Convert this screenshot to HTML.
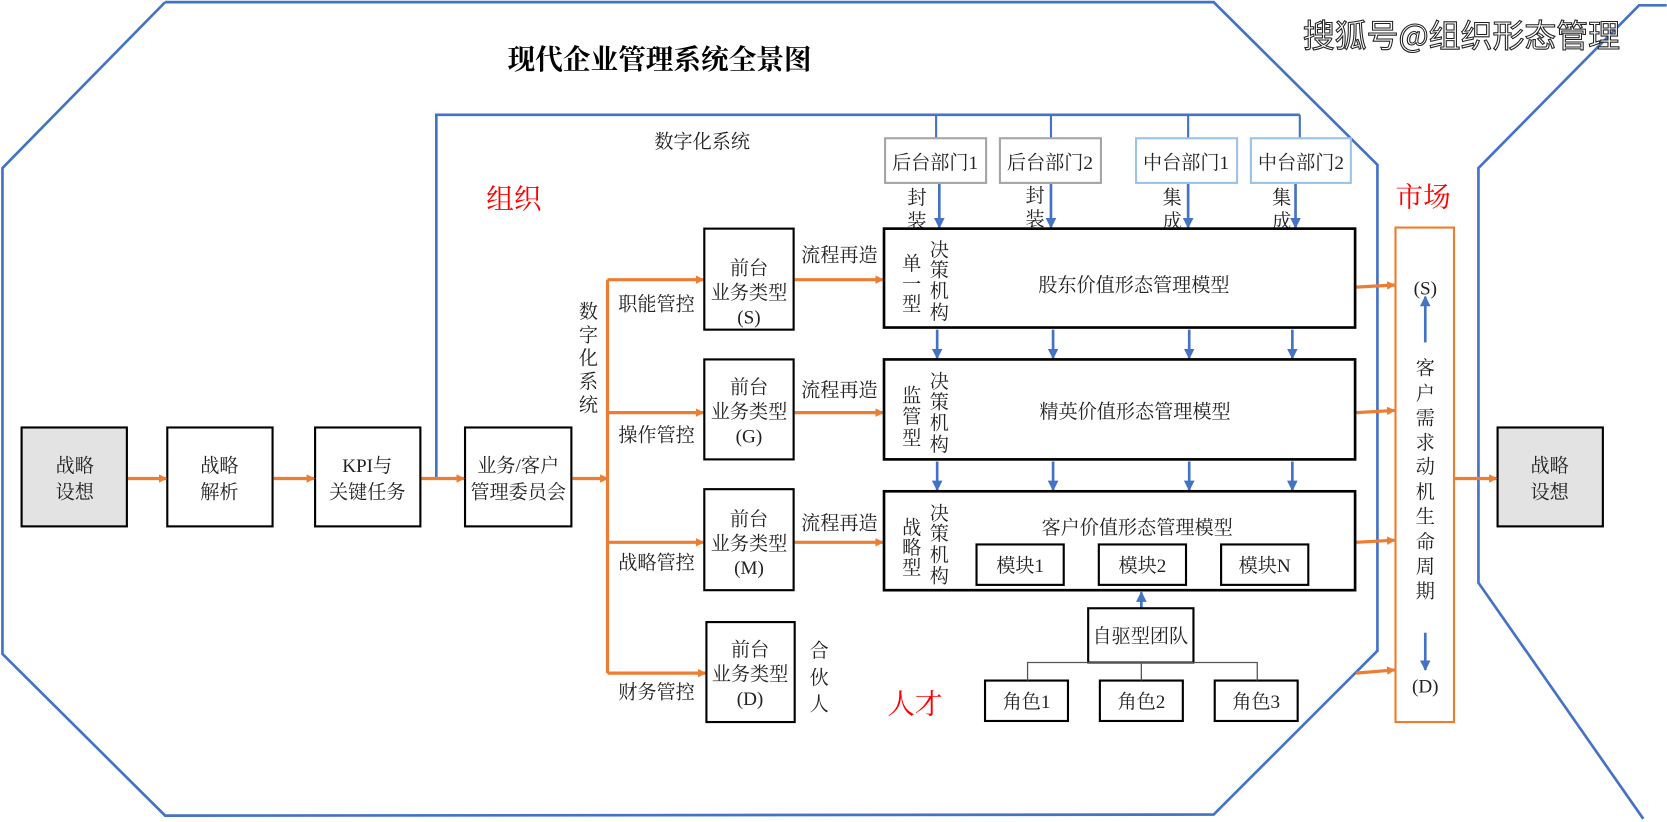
<!DOCTYPE html>
<html><head><meta charset="utf-8"><style>
html,body{margin:0;padding:0;background:#fff;}
svg{display:block;}
text{font-family:"Liberation Serif","Noto Serif CJK SC",serif;font-size:18px;fill:#222;}
.c{text-anchor:middle;}
</style></head><body>
<svg width="1667" height="822" viewBox="0 0 1567 773" xmlns="http://www.w3.org/2000/svg">
<defs>
<marker id="ao" markerWidth="8" markerHeight="8" refX="7" refY="4" orient="auto" markerUnits="userSpaceOnUse"><path d="M0,0 L8,4 L0,8 Z" fill="#ED7D31"/></marker>
<marker id="ab" markerWidth="10" markerHeight="10" refX="9" refY="5" orient="auto" markerUnits="userSpaceOnUse"><path d="M0,0 L10,5 L0,10 Z" fill="#4472C4"/></marker>
</defs>
<polyline points="155,2 1141,2 1295,155 1295,612 1141,766 155,767 2,615 2,158 155,2" fill="none" stroke="#4472C4" stroke-width="2.5"/>
<polyline points="1567,5 1541,5 1390,158 1390,548 1545,770" fill="none" stroke="#4472C4" stroke-width="2.5"/>
<text x="620" y="65" class="c" style="font-size:26px;font-weight:bold;fill:#000">现代企业管理系统全景图</text>
<text x="1374" y="44" class="c" style="font-size:30px;font-family:'Noto Sans CJK SC',sans-serif;fill:#fff;stroke:#222;stroke-width:1">搜狐号@组织形态管理</text>
<polyline points="410,449 410,108 1222,108" fill="none" stroke="#4472C4" stroke-width="2.5"/>
<g stroke="#4472C4" stroke-width="2"><line x1="880" y1="108" x2="880" y2="130"/><line x1="988" y1="108" x2="988" y2="130"/><line x1="1117" y1="108" x2="1117" y2="130"/><line x1="1222" y1="108" x2="1222" y2="130"/></g>
<text x="660" y="139" class="c">数字化系统</text>
<text x="483" y="196" class="c" style="font-size:26px;fill:#f00">组织</text>
<text x="1338" y="194" class="c" style="font-size:26px;fill:#f00">市场</text>
<text x="860" y="671" class="c" style="font-size:26px;fill:#f00">人才</text>
<g stroke="#000" stroke-width="2">
<rect x="20" y="402" width="99" height="93" fill="#e3e3e3"/>
<rect x="157" y="402" width="99" height="93" fill="#fff"/>
<rect x="296" y="402" width="99" height="93" fill="#fff"/>
<rect x="437" y="402" width="100" height="93" fill="#fff"/>
<rect x="1408" y="402" width="99" height="93" fill="#e3e3e3"/>
</g>
<text x="70" y="444" class="c">战略</text><text x="70" y="469" class="c">设想</text>
<text x="206" y="444" class="c">战略</text><text x="206" y="469" class="c">解析</text>
<text x="345" y="444" class="c">KPI与</text><text x="345" y="469" class="c">关键任务</text>
<text x="487" y="444" class="c">业务/客户</text><text x="487" y="469" class="c">管理委员会</text>
<text x="1457" y="444" class="c">战略</text><text x="1457" y="469" class="c">设想</text>
<g stroke="#ED7D31" stroke-width="3" marker-end="url(#ao)">
<line x1="120" y1="450" x2="156" y2="450"/><line x1="257" y1="450" x2="295" y2="450"/>
<line x1="396" y1="450" x2="436" y2="450"/><line x1="538" y1="450" x2="571" y2="450"/>
<line x1="1368" y1="450" x2="1407" y2="450"/>
<line x1="571" y1="263" x2="661" y2="263"/><line x1="571" y1="388" x2="661" y2="388"/>
<line x1="571" y1="510" x2="661" y2="510"/><line x1="571" y1="633" x2="663" y2="633"/>
<line x1="747" y1="263" x2="830" y2="263"/><line x1="747" y1="388" x2="830" y2="388"/><line x1="747" y1="510" x2="830" y2="510"/>
<line x1="1275" y1="270" x2="1311" y2="268"/><line x1="1275" y1="388" x2="1311" y2="386"/>
<line x1="1275" y1="510" x2="1311" y2="508"/><line x1="1275" y1="633" x2="1311" y2="630"/>
</g>
<line x1="571" y1="263" x2="571" y2="633" stroke="#ED7D31" stroke-width="3"/>
<text x="617" y="292" class="c">职能管控</text><text x="617" y="415" class="c">操作管控</text>
<text x="617" y="535" class="c">战略管控</text><text x="617" y="657" class="c">财务管控</text>
<text x="553" y="299" class="c">数</text><text x="553" y="321" class="c">字</text><text x="553" y="343" class="c">化</text><text x="553" y="365" class="c">系</text><text x="553" y="387" class="c">统</text>
<g stroke="#000" stroke-width="2" fill="#fff">
<rect x="662" y="215" width="84" height="95"/><rect x="662" y="338" width="84" height="94"/>
<rect x="662" y="460" width="84" height="95"/><rect x="664" y="585" width="83" height="94"/>
</g>
<text x="704" y="258" class="c">前台</text><text x="704" y="281" class="c">业务类型</text><text x="704" y="304" class="c">(S)</text>
<text x="704" y="370" class="c">前台</text><text x="704" y="393" class="c">业务类型</text><text x="704" y="416" class="c">(G)</text>
<text x="704" y="494" class="c">前台</text><text x="704" y="517" class="c">业务类型</text><text x="704" y="540" class="c">(M)</text>
<text x="705" y="617" class="c">前台</text><text x="705" y="640" class="c">业务类型</text><text x="705" y="663" class="c">(D)</text>
<text x="770" y="618" class="c">合</text><text x="770" y="643" class="c">伙</text><text x="770" y="668" class="c">人</text>
<text x="789" y="246" class="c">流程再造</text><text x="789" y="373" class="c">流程再造</text><text x="789" y="498" class="c">流程再造</text>
<g stroke-width="2" fill="#fff">
<rect x="832" y="130" width="95" height="42" stroke="#a6a6a6"/><rect x="940" y="130" width="95" height="42" stroke="#a6a6a6"/>
<rect x="1068" y="130" width="95" height="42" stroke="#9DC3E6"/><rect x="1176" y="130" width="94" height="42" stroke="#9DC3E6"/>
</g>
<text x="879" y="159" class="c">后台部门1</text><text x="987" y="159" class="c">后台部门2</text>
<text x="1115" y="159" class="c">中台部门1</text><text x="1223" y="159" class="c">中台部门2</text>
<text x="862" y="192" class="c">封</text><text x="862" y="214" class="c">装</text>
<text x="973" y="190" class="c">封</text><text x="973" y="212" class="c">装</text>
<text x="1102" y="192" class="c">集</text><text x="1102" y="214" class="c">成</text>
<text x="1205" y="192" class="c">集</text><text x="1205" y="214" class="c">成</text>
<g stroke="#4472C4" stroke-width="2.5" marker-end="url(#ab)">
<line x1="883" y1="173" x2="883" y2="214"/><line x1="988" y1="173" x2="988" y2="214"/>
<line x1="1117" y1="173" x2="1117" y2="214"/><line x1="1218" y1="173" x2="1218" y2="214"/>
<line x1="881" y1="310" x2="881" y2="337"/><line x1="990" y1="310" x2="990" y2="337"/>
<line x1="1118" y1="310" x2="1118" y2="337"/><line x1="1215" y1="310" x2="1215" y2="337"/>
<line x1="881" y1="434" x2="881" y2="461"/><line x1="990" y1="434" x2="990" y2="461"/>
<line x1="1118" y1="434" x2="1118" y2="461"/><line x1="1215" y1="434" x2="1215" y2="461"/>
<line x1="1073" y1="572" x2="1073" y2="557"/>
<line x1="1340" y1="322" x2="1340" y2="279"/><line x1="1340" y1="595" x2="1340" y2="630"/>
</g>
<g stroke="#000" stroke-width="2.5" fill="none">
<rect x="831" y="215" width="443" height="93"/><rect x="831" y="338" width="443" height="94"/><rect x="831" y="462" width="443" height="93"/>
</g>
<text x="857" y="254" class="c">单</text><text x="857" y="273" class="c">一</text><text x="857" y="292" class="c">型</text>
<text x="883" y="241" class="c">决</text><text x="883" y="260" class="c">策</text><text x="883" y="280" class="c">机</text><text x="883" y="300" class="c">构</text>
<text x="857" y="378" class="c">监</text><text x="857" y="398" class="c">管</text><text x="857" y="418" class="c">型</text>
<text x="883" y="365" class="c">决</text><text x="883" y="384" class="c">策</text><text x="883" y="404" class="c">机</text><text x="883" y="424" class="c">构</text>
<text x="857" y="502" class="c">战</text><text x="857" y="521" class="c">略</text><text x="857" y="540" class="c">型</text>
<text x="883" y="489" class="c">决</text><text x="883" y="508" class="c">策</text><text x="883" y="528" class="c">机</text><text x="883" y="548" class="c">构</text>
<text x="1066" y="274" class="c">股东价值形态管理模型</text>
<text x="1067" y="393" class="c">精英价值形态管理模型</text>
<text x="1069" y="502" class="c">客户价值形态管理模型</text>
<g stroke="#000" stroke-width="2" fill="#fff">
<rect x="918" y="512" width="82" height="38"/><rect x="1033" y="512" width="82" height="38"/><rect x="1148" y="512" width="82" height="38"/>
<rect x="1023" y="572" width="99" height="51"/>
<rect x="926" y="640" width="78" height="38"/><rect x="1034" y="640" width="78" height="38"/><rect x="1142" y="640" width="78" height="38"/>
</g>
<text x="959" y="538" class="c">模块1</text><text x="1074" y="538" class="c">模块2</text><text x="1189" y="538" class="c">模块N</text>
<text x="1072" y="604" class="c">自驱型团队</text>
<text x="965" y="666" class="c">角色1</text><text x="1073" y="666" class="c">角色2</text><text x="1181" y="666" class="c">角色3</text>
<polyline points="966,640 966,623 1182,623 1182,640" fill="none" stroke="#555" stroke-width="1.2"/>
<line x1="1073" y1="623" x2="1073" y2="640" stroke="#555" stroke-width="1.2"/>
<rect x="1312" y="214" width="55" height="465" fill="none" stroke="#ED7D31" stroke-width="2"/>
<text x="1340" y="277" class="c">(S)</text><text x="1340" y="651" class="c">(D)</text>
<text x="1340" y="352" class="c">客</text><text x="1340" y="376" class="c">户</text><text x="1340" y="399" class="c">需</text>
<text x="1340" y="422" class="c">求</text><text x="1340" y="445" class="c">动</text><text x="1340" y="469" class="c">机</text>
<text x="1340" y="492" class="c">生</text><text x="1340" y="516" class="c">命</text><text x="1340" y="539" class="c">周</text><text x="1340" y="562" class="c">期</text>
</svg>
</body></html>
